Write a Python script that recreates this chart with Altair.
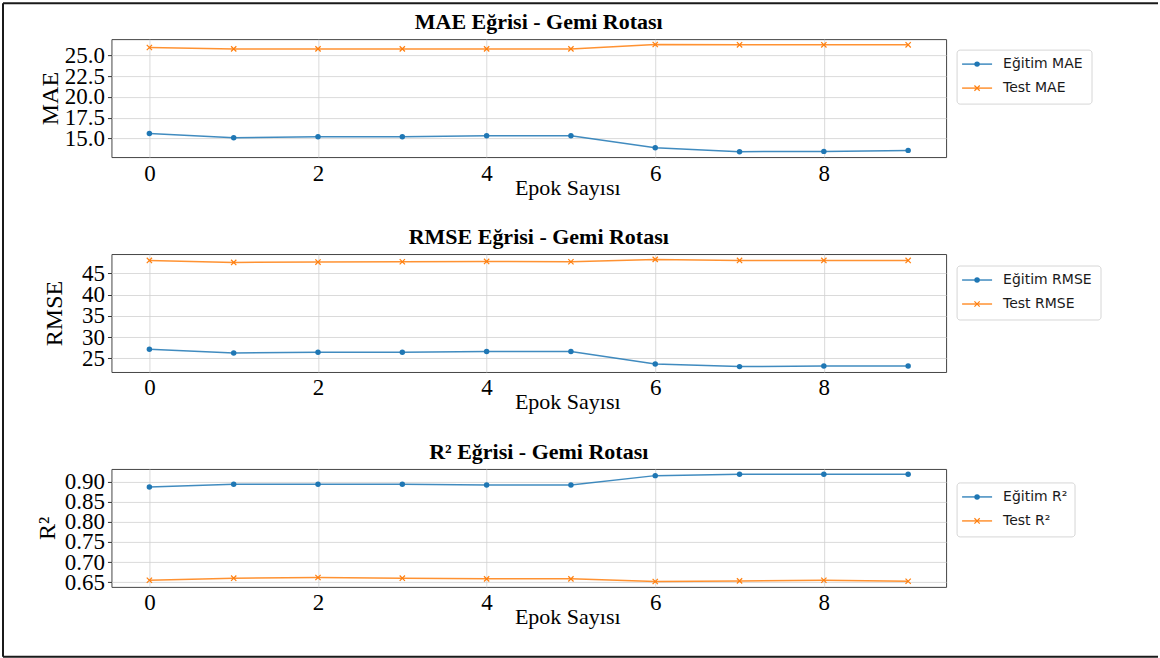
import altair as alt
import pandas as pd

epochs = list(range(10))
mae_train = [15.60, 15.08, 15.20, 15.20, 15.32, 15.32, 13.87, 13.39, 13.43, 13.55]
mae_test = [25.97, 25.80, 25.80, 25.80, 25.80, 25.80, 26.33, 26.29, 26.29, 26.29]
rmse_train = [27.13, 26.26, 26.42, 26.42, 26.57, 26.57, 23.66, 23.03, 23.19, 23.19]
rmse_test = [48.07, 47.60, 47.68, 47.76, 47.83, 47.76, 48.31, 48.07, 48.07, 48.07]
r2_train = [0.8867, 0.8933, 0.8933, 0.8933, 0.8917, 0.8917, 0.9150, 0.9183, 0.9183, 0.9183]
r2_test = [0.6550, 0.6600, 0.6617, 0.6600, 0.6583, 0.6583, 0.6517, 0.6533, 0.6550, 0.6525]

mae_ticks = [15.0, 17.5, 20.0, 22.5, 25.0]
rmse_ticks = [25, 30, 35, 40, 45]
r2_ticks = [0.65, 0.70, 0.75, 0.80, 0.85, 0.90]
x_ticks = [0, 2, 4, 6, 8]
titles = ["MAE Eğrisi - Gemi Rotası", "RMSE Eğrisi - Gemi Rotası", "R² Eğrisi - Gemi Rotası"]

BLUE = "#1f77b4"
ORANGE = "#ff7f0e"
XPATH = "M-1,-1L1,1M-1,1L1,-1"
SERIF = "Liberation Serif"
W, H = 835, 118


def panel(metric, train, test, title, ticks, fmt, title_x, leg_top, leg_w, border=False):
    names = [f"Eğitim {metric}", f"Test {metric}"]
    df = pd.DataFrame({
        "epoch": epochs * 2,
        "value": train + test,
        "series": [names[0]] * len(epochs) + [names[1]] * len(epochs),
    })
    allv = train + test
    lo, hi = min(allv), max(allv)
    pad = 0.05 * (hi - lo)
    x = alt.X("epoch:Q",
              scale=alt.Scale(domain=[-0.45, 9.45], nice=False, zero=False),
              axis=alt.Axis(values=x_ticks, format="d", title="Epok Sayısı",
                            titleX=456, titleY=37, titleAlign="center",
                            titleBaseline="alphabetic", ticks=False,
                            labelPadding=5))
    y = alt.Y("value:Q",
              scale=alt.Scale(domain=[lo - pad, hi + pad], nice=False, zero=False),
              axis=alt.Axis(values=ticks, format=fmt, title=metric,
                            titleX=title_x, titleY=H / 2, titleAlign="center",
                            titleBaseline="alphabetic", titleAngle=270,
                            tickSize=4, labelPadding=3))
    color = alt.Color("series:N", scale=alt.Scale(domain=names, range=[BLUE, ORANGE]), legend=None)
    base = alt.Chart(df)
    lines = base.mark_line(strokeWidth=1.5, opacity=0.85).encode(x=x, y=y, color=color)
    p_train = base.transform_filter(alt.datum.series == names[0]).mark_point(
        shape="circle", filled=True, size=30, opacity=1).encode(x=x, y=y, color=color)
    p_test = base.transform_filter(alt.datum.series == names[1]).mark_point(
        shape=XPATH, filled=False, size=28, strokeWidth=1.2, opacity=1).encode(x=x, y=y, color=color)
    layers = [lines, p_train, p_test]

    one = pd.DataFrame({"k": [0], "title": [title]})
    layers.append(alt.Chart(one).mark_text(
        font=SERIF, fontSize=22, fontWeight="bold", align="center", baseline="alphabetic", color="black"
    ).encode(x=alt.value(W / 2 + 10), y=alt.value(-10), text="title:N"))

    lx = W + 11
    box = alt.Chart(one).mark_rect(fill="white", stroke="#d6d6d6", strokeWidth=1, cornerRadius=3).encode(
        x=alt.value(lx), x2=alt.value(lx + leg_w), y=alt.value(leg_top), y2=alt.value(leg_top + 54))
    layers.append(box)
    cols = [BLUE, ORANGE]
    for i, name in enumerate(names):
        ly = leg_top + 14 + 24 * i
        sel = base.transform_filter((alt.datum.series == name) & (alt.datum.epoch == 0))
        layers.append(sel.mark_rule(strokeWidth=1.5, opacity=0.85).encode(
            x=alt.value(lx + 5), x2=alt.value(lx + 35), y=alt.value(ly), color=alt.value(cols[i])))
        if i == 0:
            layers.append(sel.mark_point(shape="circle", filled=True, size=30, opacity=1).encode(
                x=alt.value(lx + 20), y=alt.value(ly), color=alt.value(cols[i])))
        else:
            layers.append(sel.mark_point(shape=XPATH, filled=False, size=28, strokeWidth=1.2, opacity=1).encode(
                x=alt.value(lx + 20), y=alt.value(ly), color=alt.value(cols[i])))
        layers.append(sel.mark_text(align="left", baseline="middle", font="DejaVu Sans", fontSize=14).encode(
            x=alt.value(lx + 46), y=alt.value(ly), text="series:N", color=alt.value("#1a1a1a")))

    if border:
        bl = -108.5
        br = 1047
        bt = -36
        bb = 618
        for (x1, x2, y1, y2) in [(bl, bl, bt, bb), (bl, br, bt, bt), (bl, br, bb, bb)]:
            layers.append(alt.Chart(one).mark_rule(strokeWidth=2, color="#1a1a1a").encode(
                x=alt.value(x1), x2=alt.value(x2), y=alt.value(y1), y2=alt.value(y2)))

    return alt.layer(*layers).properties(width=W, height=H)


c1 = panel("MAE", mae_train, mae_test, titles[0], mae_ticks, ".1f", -54, 11, 135, border=True)
c2 = panel("RMSE", rmse_train, rmse_test, titles[1], rmse_ticks, "d", -50, 12, 144)
c3 = panel("R²", r2_train, r2_test, titles[2], r2_ticks, ".2f", -57, 14, 118)

chart = alt.vconcat(c1, c2, c3, spacing=97, bounds="flush").properties(
    padding={"left": 1.5, "top": 1, "right": 0, "bottom": 0},
    background="white",
).configure_view(
    stroke="#444444", strokeWidth=1
).configure_axis(
    labelFont=SERIF, labelFontSize=23, labelColor="black",
    titleFont=SERIF, titleFontSize=24, titleFontWeight="normal", titleColor="black",
    domain=False, grid=True, gridColor="#d0d0d0", gridWidth=0.8,
    tickColor="#333333", labelOverlap=False, labelBound=False, labelFlush=False,
).configure_axisX(
    titleFontSize=22
)

chart.save("out.html", embed_options={"renderer": "svg", "actions": False})
